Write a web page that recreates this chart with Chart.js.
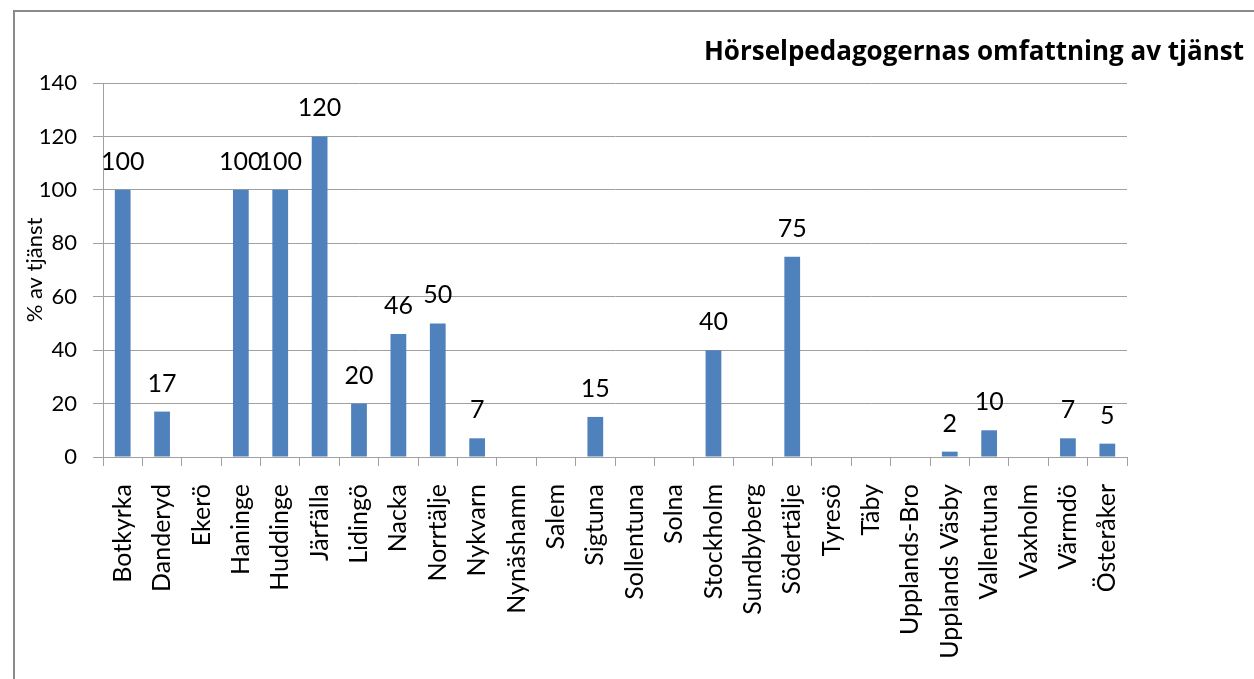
<!DOCTYPE html>
<html>
<head>
<meta charset="utf-8">
<script src="https://cdn.jsdelivr.net/npm/chart.js@4"></script>
<style>
  html, body { margin: 0; padding: 0; background: #fff; }
  #wrap { width: 1254px; height: 679px; }
</style>
</head>
<body>
<div id="wrap"><canvas id="myChart" width="1254" height="679"></canvas></div>
<script>
// kommuner och andel tjänst (%)
const kommuner = ['Botkyrka', 'Danderyd', 'Ekerö', 'Haninge', 'Huddinge', 'Järfälla', 'Lidingö', 'Nacka',
    'Norrtälje', 'Nykvarn', 'Nynäshamn', 'Salem', 'Sigtuna', 'Sollentuna', 'Solna', 'Stockholm',
    'Sundbyberg', 'Södertälje', 'Tyresö', 'Täby', 'Upplands-Bro', 'Upplands Väsby', 'Vallentuna',
    'Vaxholm', 'Värmdö', 'Österåker']
const tjanst = [100, 17, null, 100, 100, 120, 20, 46, 50, 7, null, null, 15, null, null, 40,
    null, 75, null, null, null, 2, 10, null, 7, 5]
const yTicks = [0, 20, 40, 60, 80, 100, 120, 140]

const titel = 'Hörselpedagogernas omfattning av tjänst'
const fontFamily = 'Lato, "Open Sans", sans-serif'
const gridColor = '#a0a0a0'

// ram runt diagrammet
const framePlugin = {
    id: 'frame',
    beforeDraw(chart) {
        const ctx = chart.ctx
        ctx.save()
        ctx.strokeStyle = '#8a8a8a'
        ctx.lineWidth = 2
        ctx.beginPath()
        ctx.moveTo(14, chart.height)
        ctx.lineTo(14, 11)
        ctx.lineTo(chart.width, 11)
        ctx.stroke()
        ctx.restore()
    }
}

// rubrik uppe till höger
const titlePlugin = {
    id: 'rightTitle',
    afterDraw(chart) {
        const ctx = chart.ctx
        ctx.save()
        ctx.font = 'bold 26px "Open Sans", sans-serif'
        ctx.fillStyle = '#000'
        ctx.textAlign = 'right'
        ctx.textBaseline = 'alphabetic'
        ctx.fillText(titel, 1244, 60)
        ctx.restore()
    }
}

// värden ovanför staplarna
const valuePlugin = {
    id: 'values',
    afterDatasetsDraw(chart) {
        const ctx = chart.ctx
        const meta = chart.getDatasetMeta(0)
        ctx.save()
        ctx.font = '25px ' + fontFamily
        ctx.fillStyle = '#000'
        ctx.textAlign = 'center'
        ctx.textBaseline = 'alphabetic'
        meta.data.forEach((bar, i) => {
            const v = tjanst[i]
            if (v === null) return
            ctx.fillText(String(v), bar.x, bar.y - 20)
        })
        ctx.restore()
    }
}

const ctx = document.getElementById('myChart').getContext('2d')
const chart = new Chart(ctx, {
    type: 'bar',
    data: {
        labels: kommuner,
        datasets: [{
            data: tjanst,
            backgroundColor: '#4f81bd',
            borderWidth: 0,
            categoryPercentage: 1,
            barPercentage: 0.4
        }]
    },
    options: {
        responsive: false,
        animation: false,
        layout: { padding: { top: 83, left: 0, right: 127, bottom: 0 } },
        plugins: {
            legend: { display: false },
            tooltip: { enabled: false }
        },
        scales: {
            x: {
                grid: { display: true, drawOnChartArea: false, offset: true, tickLength: 9, color: gridColor },
                border: { display: true, color: gridColor },
                ticks: {
                    minRotation: 90,
                    maxRotation: 90,
                    autoSkip: false,
                    padding: 18,
                    color: '#000',
                    font: { family: fontFamily, size: 25 }
                },
                afterFit: scale => { scale.height = 222 }
            },
            y: {
                min: 0,
                max: 140,
                afterBuildTicks: scale => { scale.ticks = yTicks.map(v => ({ value: v })) },
                grid: { color: gridColor, tickLength: 10 },
                border: { display: true, color: gridColor },
                ticks: {
                    padding: 16,
                    color: '#000',
                    font: { family: fontFamily, size: 22 }
                },
                title: {
                    display: true,
                    text: '% av tjänst',
                    color: '#000',
                    padding: { top: 22, bottom: 0 },
                    font: { family: fontFamily, size: 22 }
                },
                afterFit: scale => { scale.width = 103 }
            }
        }
    },
    plugins: [framePlugin, titlePlugin, valuePlugin]
})
</script>
</body>
</html>
